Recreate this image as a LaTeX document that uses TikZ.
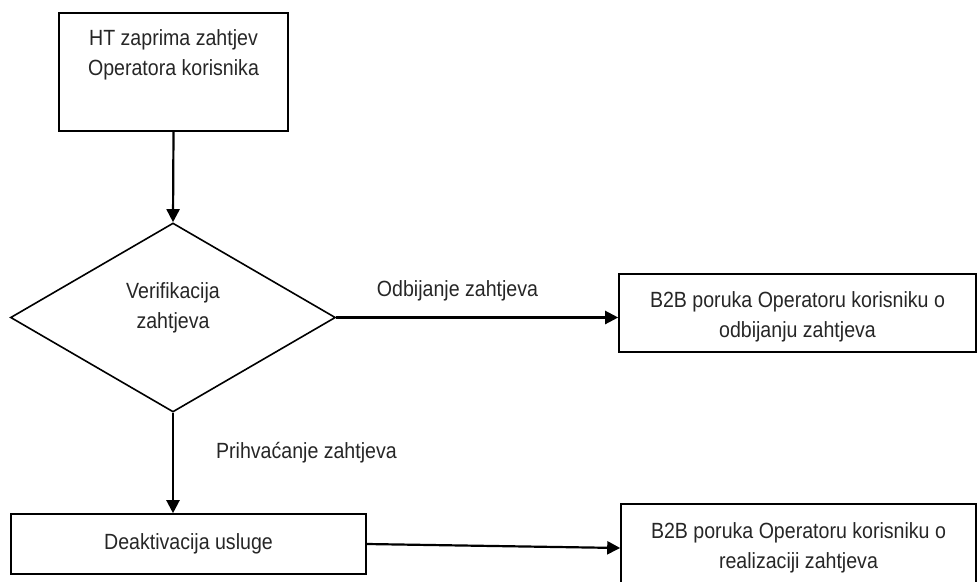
\documentclass[tikz,border=0pt]{standalone}
\usepackage{fontspec}
\setmainfont{Liberation Sans}[FakeStretch=0.89]
\usetikzlibrary{shapes.geometric, arrows.meta, positioning}

\begin{document}
\begin{tikzpicture}[x=1pt, y=-1pt, line width=1.6pt, >={Triangle[length=13pt,width=13pt]},
		font=\fontsize{22}{30}\selectfont,
		korak/.style={draw, rectangle, align=center, inner sep=0pt, text=black!85},
		odluka/.style={draw, diamond, align=center, inner sep=0pt, text=black!85},
		tok/.style={->, line width=2.2pt},
		natpis/.style={text=black!85, inner sep=2pt}]
	
	\useasboundingbox (0,0) rectangle (977,581);
	\clip (0,0) rectangle (977,581);
	
	% 1. ZAHTJEV
	\node[korak, minimum width=229pt, minimum height=118pt] (zahtjev) at (173.5,72) {HT zaprima zahtjev\\Operatora korisnika\\ \strut};
	
	% 2. VERIFIKACIJA
	\node[odluka, minimum width=325pt, minimum height=189pt, text depth=23pt] (verif) at (173,317.5) {Verifikacija\\zahtjeva};
	
	% 3. ISHODI
	\node[korak, minimum width=357pt, minimum height=78pt, text height=54pt] (odbij) at (797.5,313) {B2B poruka Operatoru korisniku o\\odbijanju zahtjeva};
	\node[korak, minimum width=355pt, minimum height=60pt] (deakt) at (188.5,544) {Deaktivacija usluge};
	\node[korak, minimum width=355pt, minimum height=88pt] (realiz) at (798.5,548) {B2B poruka Operatoru korisniku o\\realizaciji zahtjeva};
	
	% Tok
	\draw[tok] (zahtjev.south) -- (verif.north);
	\draw[tok] (verif.east) -- (verif.east -| odbij.west) node[natpis, pos=0.43, above=13pt] (lblOdbij) {Odbijanje zahtjeva};
	\draw[tok] (verif.south) -- (verif.south |- deakt.north) node[natpis, pos=0.4, right=40pt] (lblPrihv) {Prihvaćanje zahtjeva};
	\draw[tok] (deakt.east) -- (realiz.west);
	
\end{tikzpicture}
\end{document}
